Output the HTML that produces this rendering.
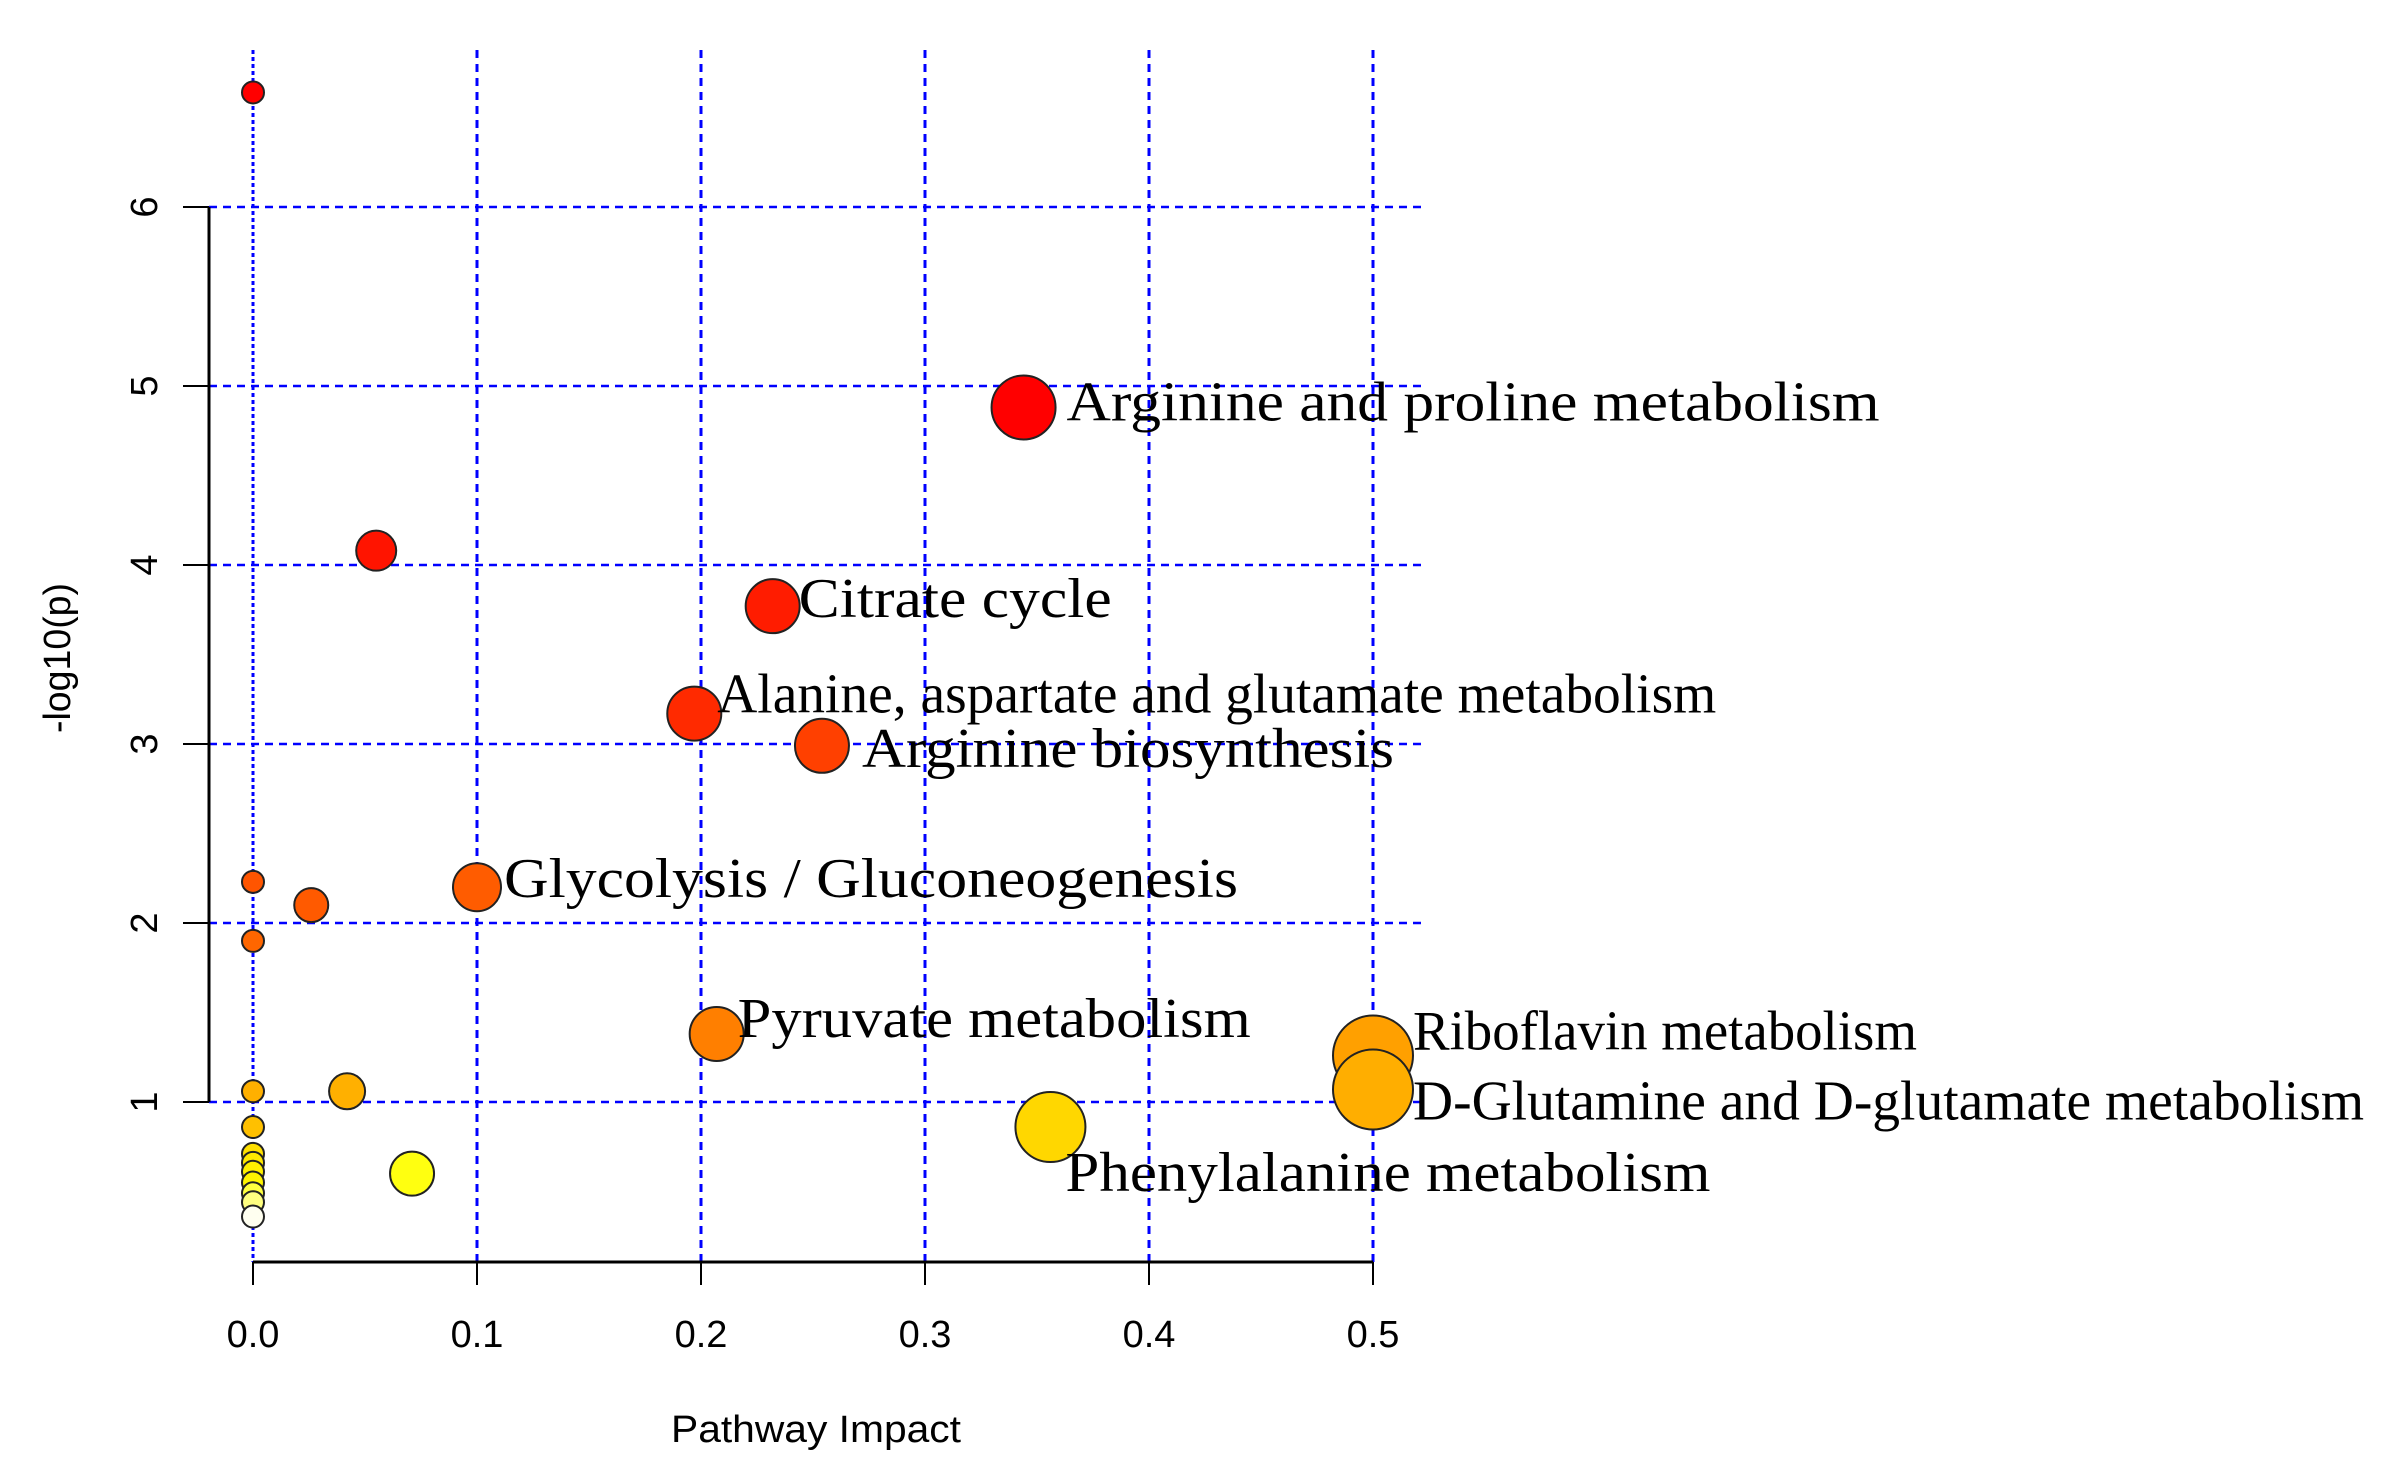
<!DOCTYPE html>
<html><head><meta charset="utf-8"><style>
html,body{margin:0;padding:0;background:#fff;}
svg{display:block;}
</style></head><body>
<svg id="chart" width="2390" height="1479" viewBox="0 0 2390 1479" xmlns="http://www.w3.org/2000/svg">
<rect width="2390" height="1479" fill="#fff"/>
<g id="grid"></g>
<g id="axes"></g>
<g id="points"></g>
<g id="labels"></g>
</svg>
<script>
const xTicks = [0, 0.1, 0.2, 0.3, 0.4, 0.5];
const xTickLabels = ["0.0", "0.1", "0.2", "0.3", "0.4", "0.5"];
const yTicks = [1, 2, 3, 4, 5, 6];
const yTickLabels = ["1", "2", "3", "4", "5", "6"];
const impact = [0, 0.055, 0.026, 0, 0, 0.042, 0, 0, 0.071, 0, 0, 0, 0, 0, 0, 0, 0.197, 0.254, 0.100, 0.232, 0.207, 0.5, 0.5, 0.356, 0.344];
const logp   = [6.64, 4.08, 2.10, 2.23, 1.90, 1.06, 1.06, 0.86, 0.60, 0.71, 0.66, 0.61, 0.55, 0.49, 0.44, 0.36, 3.17, 2.99, 2.20, 3.77, 1.38, 1.26, 1.07, 0.86, 4.88];
const colors = ["#ff0000","#ff1400","#ff5a00","#ff5500","#ff6600","#ffb000","#ffb000","#ffc000","#ffff10","#ffe000","#ffe800","#fff000","#fff400","#ffff40","#ffff80","#fffff0","#ff2a00","#ff4000","#ff5c00","#ff1c00","#ff7f00","#ffa000","#ffae00","#ffd700","#ff0000"];
const radii  = [11, 20, 17, 11, 11, 18, 11, 11, 22, 11, 11, 11, 11, 11, 11, 11, 27, 27, 24, 27, 27, 40, 40, 35, 32];
const labelText = ["","","","","","","","","","","","","","","","","Alanine, aspartate and glutamate metabolism","Arginine biosynthesis","Glycolysis / Gluconeogenesis","Citrate cycle","Pyruvate metabolism","Riboflavin metabolism","D-Glutamine and D-glutamate metabolism","Phenylalanine metabolism","Arginine and proline metabolism"];
const labelDx = [0,0,0,0,0,0,0,0,0,0,0,0,0,0,0,0,23,40,27,26,21,40,40,15,43];
const labelDy = [0,0,0,0,0,0,0,0,0,0,0,0,0,0,0,0,-1,21,10,11,3,-6,30,64,13];
const labelW  = [0,0,0,0,0,0,0,0,0,0,0,0,0,0,0,0,999,532,734,313,513,504,951,645,813];

const NS = "http://www.w3.org/2000/svg";
const X = v => 253 + v * 2240;
const Y = v => 1102 - (v - 1) * 179;
function mk(tag, attrs, parent){ const e=document.createElementNS(NS,tag); for(const k in attrs) e.setAttribute(k,attrs[k]); parent.appendChild(e); return e; }
const grid=document.getElementById('grid'), axes=document.getElementById('axes'), pts=document.getElementById('points'), labs=document.getElementById('labels');

yTicks.forEach((t,i)=>{
  const l=mk('line',{x1:209,x2:1425,y1:Y(t),y2:Y(t),stroke:'#0000ff','stroke-width':2.5,'stroke-dasharray':'8,6'},grid);
  
  
});
xTicks.forEach((t,i)=>{
  const l=mk('line',{x1:X(t),x2:X(t),y1:50,y2:1262,stroke:'#0000ff','stroke-width':3,'stroke-dasharray':i===0?'4,3':'8,6'},grid);
  
  
});
let a=mk('line',{x1:X(0),x2:X(0.5),y1:1262,y2:1262,stroke:'#000','stroke-width':3},axes);


a=mk('line',{x1:209,x2:209,y1:Y(1),y2:Y(6),stroke:'#000','stroke-width':3},axes);


xTicks.forEach((t,i)=>{
  const tk=mk('line',{x1:X(t),x2:X(t),y1:1262,y2:1285,stroke:'#000','stroke-width':2},axes);
  
  
  const tx=mk('text',{x:X(t),y:1347,'text-anchor':'middle','font-family':'Liberation Sans, sans-serif','font-size':38,fill:'#000'},axes);
  tx.textContent=xTickLabels[i];
  
  
});
yTicks.forEach((t,i)=>{
  const tk=mk('line',{x1:183,x2:209,y1:Y(t),y2:Y(t),stroke:'#000','stroke-width':2},axes);
  
  
  const tx=mk('text',{x:0,y:0,'text-anchor':'middle','font-family':'Liberation Sans, sans-serif','font-size':38,fill:'#000',transform:`translate(157,${Y(t)}) rotate(-90)`},axes);
  tx.textContent=yTickLabels[i];
  
  
});
let tt=mk('text',{x:816,y:1442,'text-anchor':'middle','font-family':'Liberation Sans, sans-serif','font-size':38,fill:'#000',textLength:290,lengthAdjust:'spacingAndGlyphs'},axes);
tt.textContent='Pathway Impact';


tt=mk('text',{x:0,y:0,'text-anchor':'middle','font-family':'Liberation Sans, sans-serif','font-size':38,fill:'#000',textLength:150,lengthAdjust:'spacingAndGlyphs',transform:'translate(70,658) rotate(-90)'},axes);
tt.textContent='-log10(p)';



impact.forEach((v,i)=>{
  const c=mk('circle',{cx:X(v),cy:Y(logp[i]),r:radii[i],fill:colors[i],stroke:'#222','stroke-width':2},pts);
  
  
  if(labelText[i]){
    const t=mk('text',{x:X(v)+labelDx[i],y:Y(logp[i])+labelDy[i],'font-family':'Liberation Serif, serif','font-size':56,fill:'#000',textLength:labelW[i],lengthAdjust:'spacingAndGlyphs'},labs);
    t.textContent=labelText[i];
    
    
  }
});
</script>
</body></html>
